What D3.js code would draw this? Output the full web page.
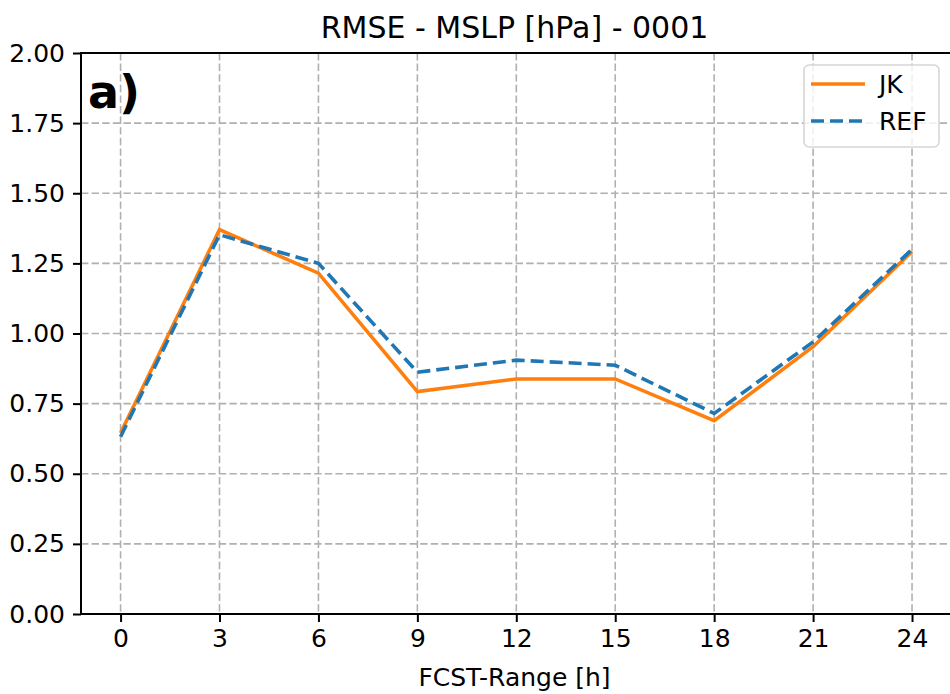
<!DOCTYPE html>
<html>
<head>
<meta charset="utf-8">
<script src="https://cdn.jsdelivr.net/npm/d3@7"></script>
<style>
  body { margin: 0; background: #fff; }
  text { font-family: "DejaVu Sans", sans-serif; fill: #000; }
</style>
</head>
<body>
<svg id="chart" width="950" height="694"></svg>
<script>
// forecast ranges and RMSE values
var fcstHours = [0, 3, 6, 9, 12, 15, 18, 21, 24];
var jkValues  = [0.645, 1.37, 1.215, 0.793, 0.838, 0.838, 0.689, 0.953, 1.292];
var refValues = [0.632, 1.352, 1.25, 0.862, 0.905, 0.887, 0.715, 0.97, 1.3];
var yTicks = [0, 0.25, 0.5, 0.75, 1.0, 1.25, 1.5, 1.75, 2.0];
var seriesNames = ["JK", "REF"];

function drawChart() {
  var svg = d3.select("#chart"),
    pLeft = 81, pRight = 951.6, pTop = 53, pBottom = 614;

  var x = d3.scaleLinear().domain([-1.2, 25.2]).range([pLeft, pRight]);
  var y = d3.scaleLinear().domain([0, 2]).range([pBottom, pTop]);

  // grid
  var grid = svg.append("g");
  grid.selectAll(".vg").data(fcstHours).enter().append("line")
    .attr("x1", d => x(d)).attr("x2", d => x(d))
    .attr("y1", pTop).attr("y2", pBottom)
    .attr("stroke", "#b0b0b0").attr("stroke-width", 1.6)
    .attr("stroke-dasharray", "7.4,3.2");
  grid.selectAll(".hg").data(yTicks).enter().append("line")
    .attr("x1", pLeft).attr("x2", pRight)
    .attr("y1", d => y(d)).attr("y2", d => y(d))
    .attr("stroke", "#b0b0b0").attr("stroke-width", 1.6)
    .attr("stroke-dasharray", "7.4,3.2");

  // lines
  var line = d3.line()
    .x((d, i) => x(fcstHours[i]))
    .y(d => y(d));

  svg.append("path").datum(jkValues)
    .attr("d", line).attr("fill", "none")
    .attr("stroke", "#ff7f0e").attr("stroke-width", 3.6);

  svg.append("path").datum(refValues)
    .attr("d", line).attr("fill", "none")
    .attr("stroke", "#1f77b4").attr("stroke-width", 3.6)
    .attr("stroke-dasharray", "13,6");

  // axes
  var xAxis = d3.axisBottom(x).tickValues(fcstHours).tickSize(8).tickPadding(7);
  var yAxis = d3.axisLeft(y).tickValues(yTicks).tickSize(8).tickPadding(8)
    .tickFormat(d3.format(".2f"));

  var gx = svg.append("g").attr("transform", "translate(0," + pBottom + ")").call(xAxis);
  var gy = svg.append("g").attr("transform", "translate(" + pLeft + ",0)").call(yAxis);
  [gx, gy].forEach(function(g) {
    g.select(".domain").remove();
    g.selectAll(".tick line").attr("stroke", "#000").attr("stroke-width", 2);
    g.selectAll(".tick text").style("font-size", "25px").attr("fill", "#222");
  });

  // frame
  svg.append("rect")
    .attr("x", pLeft).attr("y", pTop)
    .attr("width", pRight - pLeft).attr("height", pBottom - pTop)
    .attr("fill", "none").attr("stroke", "#000").attr("stroke-width", 2);

  // texts
  svg.append("text")
    .attr("x", (pLeft + 948) / 2).attr("y", 38)
    .attr("text-anchor", "middle").style("font-size", "30px")
    .text("RMSE - MSLP [hPa] - 0001");

  svg.append("text")
    .attr("x", (pLeft + 948) / 2).attr("y", 686)
    .attr("text-anchor", "middle").style("font-size", "25px")
    .text("FCST-Range [h]");

  svg.append("text")
    .attr("x", 88).attr("y", 108)
    .style("font-size", "46px").style("font-weight", "bold")
    .text("a)");

  // legend
  var legend = svg.append("g");
  legend.append("rect")
    .attr("x", 804).attr("y", 65).attr("width", 135).attr("height", 82)
    .attr("rx", 5).attr("fill", "#fff").attr("fill-opacity", 0.8)
    .attr("stroke", "#d6d6d6").attr("stroke-width", 1.6);
  var colors = ["#ff7f0e", "#1f77b4"];
  var dashes = [null, "13,6"];
  seriesNames.forEach(function(name, i) {
    var ly = 84 + i * 37;
    legend.append("line")
      .attr("x1", 811).attr("x2", 865).attr("y1", ly).attr("y2", ly)
      .attr("stroke", colors[i]).attr("stroke-width", 3.6)
      .attr("stroke-dasharray", dashes[i]);
    legend.append("text")
      .attr("x", 879).attr("y", ly + 9)
      .style("font-size", "25px").attr("fill", "#222")
      .text(name);
  });
}
drawChart();
</script>
</body>
</html>
